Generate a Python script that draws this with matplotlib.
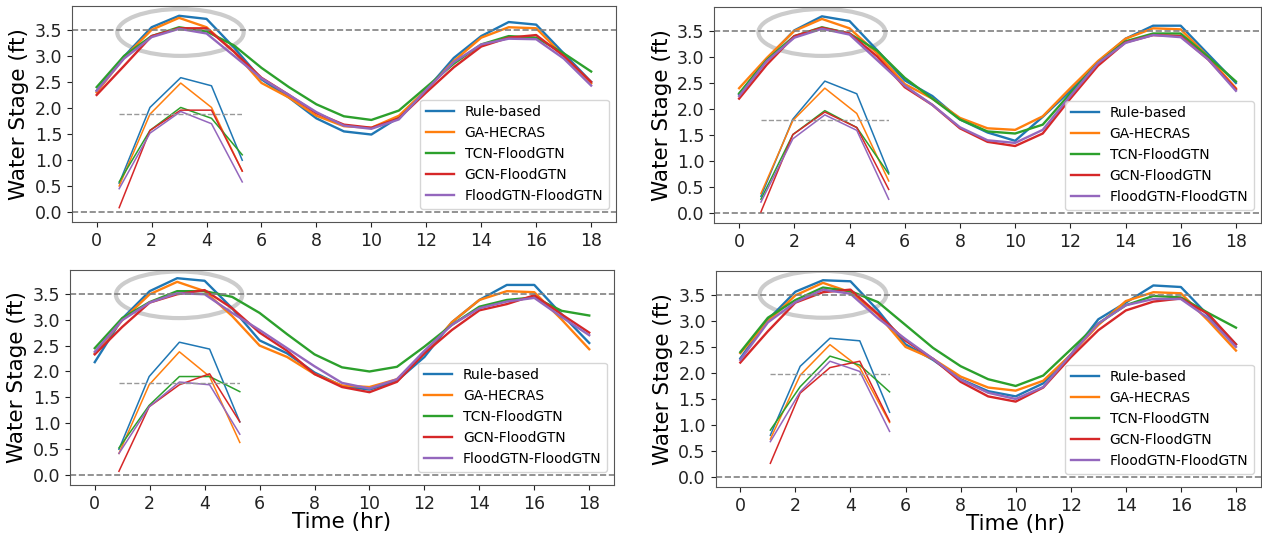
import matplotlib
matplotlib.use('Agg')
import matplotlib.pyplot as plt
from matplotlib.patches import Ellipse

hours = list(range(19))
labels = ['Rule-based', 'GA-HECRAS', 'TCN-FloodGTN', 'GCN-FloodGTN', 'FloodGTN-FloodGTN']
colors = ['#1f77b4', '#ff7f0e', '#2ca02c', '#d62728', '#9467bd']

# top left
tl_rule = [2.33, 2.99, 3.55, 3.77, 3.71, 3.16, 2.55, 2.20, 1.80, 1.55, 1.49, 1.82, 2.35, 2.96, 3.38, 3.65, 3.60, 3.05, 2.50]
tl_ga   = [2.30, 2.97, 3.50, 3.73, 3.55, 3.08, 2.48, 2.20, 1.85, 1.65, 1.62, 1.85, 2.35, 2.90, 3.35, 3.55, 3.53, 3.00, 2.47]
tl_tcn  = [2.40, 3.00, 3.38, 3.55, 3.47, 3.20, 2.77, 2.40, 2.07, 1.84, 1.77, 1.95, 2.40, 2.85, 3.22, 3.38, 3.35, 3.05, 2.70]
tl_gcn  = [2.25, 2.81, 3.38, 3.53, 3.53, 3.08, 2.58, 2.25, 1.90, 1.68, 1.62, 1.80, 2.30, 2.78, 3.18, 3.35, 3.40, 3.00, 2.50]
tl_fgtn = [2.33, 2.95, 3.36, 3.52, 3.43, 3.00, 2.57, 2.25, 1.92, 1.66, 1.60, 1.78, 2.35, 2.88, 3.22, 3.33, 3.32, 2.95, 2.43]

# top right
tr_rule = [2.28, 2.96, 3.51, 3.78, 3.69, 3.13, 2.55, 2.25, 1.80, 1.55, 1.39, 1.85, 2.35, 2.90, 3.35, 3.60, 3.60, 3.05, 2.50]
tr_ga   = [2.40, 2.98, 3.50, 3.73, 3.55, 3.07, 2.48, 2.20, 1.83, 1.63, 1.60, 1.86, 2.40, 2.92, 3.35, 3.55, 3.53, 3.00, 2.40]
tr_tcn  = [2.30, 2.94, 3.40, 3.57, 3.45, 3.12, 2.60, 2.20, 1.80, 1.57, 1.53, 1.70, 2.30, 2.88, 3.30, 3.45, 3.45, 3.00, 2.53]
tr_gcn  = [2.20, 2.85, 3.40, 3.56, 3.45, 3.01, 2.42, 2.08, 1.63, 1.37, 1.29, 1.53, 2.20, 2.83, 3.28, 3.42, 3.40, 2.95, 2.38]
tr_fgtn = [2.25, 2.92, 3.37, 3.54, 3.43, 2.94, 2.45, 2.08, 1.65, 1.40, 1.35, 1.60, 2.25, 2.88, 3.27, 3.42, 3.38, 2.95, 2.35]

# bottom left
bl_rule = [2.18, 3.02, 3.55, 3.80, 3.75, 3.22, 2.60, 2.35, 1.98, 1.72, 1.65, 1.82, 2.28, 2.95, 3.38, 3.67, 3.67, 3.10, 2.55]
bl_ga   = [2.35, 2.99, 3.49, 3.73, 3.55, 3.07, 2.50, 2.28, 1.95, 1.73, 1.70, 1.85, 2.35, 2.95, 3.38, 3.55, 3.53, 3.00, 2.43]
bl_tcn  = [2.45, 3.03, 3.34, 3.55, 3.55, 3.44, 3.13, 2.72, 2.33, 2.08, 2.00, 2.09, 2.48, 2.90, 3.25, 3.38, 3.43, 3.17, 3.08]
bl_gcn  = [2.33, 2.86, 3.33, 3.49, 3.57, 3.22, 2.75, 2.40, 1.95, 1.70, 1.60, 1.80, 2.35, 2.80, 3.18, 3.30, 3.47, 3.10, 2.75]
bl_fgtn = [2.38, 2.99, 3.33, 3.51, 3.49, 3.13, 2.80, 2.45, 2.10, 1.78, 1.67, 1.85, 2.40, 2.90, 3.22, 3.35, 3.42, 3.05, 2.70]

# bottom right
br_rule = [2.28, 3.02, 3.56, 3.78, 3.76, 3.20, 2.55, 2.25, 1.88, 1.65, 1.55, 1.80, 2.35, 3.03, 3.35, 3.68, 3.65, 3.10, 2.55]
br_ga   = [2.38, 2.99, 3.49, 3.73, 3.55, 3.12, 2.50, 2.27, 1.93, 1.72, 1.66, 1.85, 2.35, 2.92, 3.38, 3.55, 3.53, 3.00, 2.43]
br_tcn  = [2.40, 3.06, 3.40, 3.64, 3.57, 3.36, 2.92, 2.48, 2.13, 1.88, 1.75, 1.95, 2.45, 2.95, 3.30, 3.48, 3.45, 3.15, 2.87]
br_gcn  = [2.20, 2.80, 3.35, 3.55, 3.60, 3.13, 2.62, 2.27, 1.83, 1.55, 1.45, 1.72, 2.30, 2.82, 3.20, 3.37, 3.43, 3.13, 2.55]
br_fgtn = [2.25, 2.97, 3.36, 3.60, 3.52, 3.05, 2.65, 2.27, 1.87, 1.62, 1.50, 1.73, 2.35, 2.95, 3.30, 3.42, 3.42, 3.05, 2.50]

panels = [
    ([tl_rule, tl_ga, tl_tcn, tl_gcn, tl_fgtn], [0.057, 0.585, 0.431, 0.404], (0.82, 5.30, 1.88, 2.60), (3.05, 3.45), None),
    ([tr_rule, tr_ga, tr_tcn, tr_gcn, tr_fgtn], [0.566, 0.583, 0.433, 0.404], (0.79, 5.42, 1.78, 2.70), (3.00, 3.47), None),
    ([bl_rule, bl_ga, bl_tcn, bl_gcn, bl_fgtn], [0.0555, 0.0935, 0.431, 0.402], (0.88, 5.28, 1.77, 2.65), (3.07, 3.48), 0.5),
    ([br_rule, br_ga, br_tcn, br_gcn, br_fgtn], [0.567, 0.0897, 0.432, 0.404], (1.09, 5.42, 1.98, 2.45), (3.00, 3.51), 0.55),
]

fig = plt.figure(figsize=(12.62, 5.35), dpi=100)

for series, pos, ins, ell, xlab in panels:
    ax = fig.add_axes(pos)
    for s, lab, c in zip(series, labels, colors):
        ax.plot(hours, s, color=c, lw=1.7, label=lab)
    ax.axhline(3.5, color='gray', ls='--', lw=1.2)
    ax.axhline(0.0, color='gray', ls='--', lw=1.2)
    ax.add_patch(Ellipse(ell, 4.6, 0.9, fill=False, edgecolor='#cccccc', lw=3))

    # zoomed copy of hours 1-5
    x0, x1, yd, sc = ins
    H = 3.0
    iax = ax.inset_axes([x0, 0, x1 - x0, H], transform=ax.transData)
    for s, c in zip(series, colors):
        iax.plot(hours[1:6], s[1:6], color=c, lw=1.1, clip_on=False)
    iax.axhline(3.5, color='#999999', ls='--', lw=1)
    iax.set_xlim(1, 5)
    iax.set_ylim(3.5 - yd / sc, 3.5 + (H - yd) / sc)
    iax.axis('off')

    ax.set_xlim(-0.9, 18.9)
    ax.set_ylim(-0.19, 3.96)
    ax.set_xticks(range(0, 19, 2))
    ax.set_yticks([0, 0.5, 1.0, 1.5, 2.0, 2.5, 3.0, 3.5])
    ax.tick_params(labelsize=12.5, colors='#222222')
    for sp in ax.spines.values():
        sp.set_color('#555555')
    ax.set_ylabel('Water Stage (ft)', fontsize=15.5)
    if xlab is not None:
        ax.set_xlabel('Time (hr)', fontsize=15.5)
        ax.xaxis.set_label_coords(xlab, -0.125)
    ax.legend(loc='lower right', bbox_to_anchor=(1, 0.03), fontsize=10)

plt.savefig('out.png', dpi=100)
